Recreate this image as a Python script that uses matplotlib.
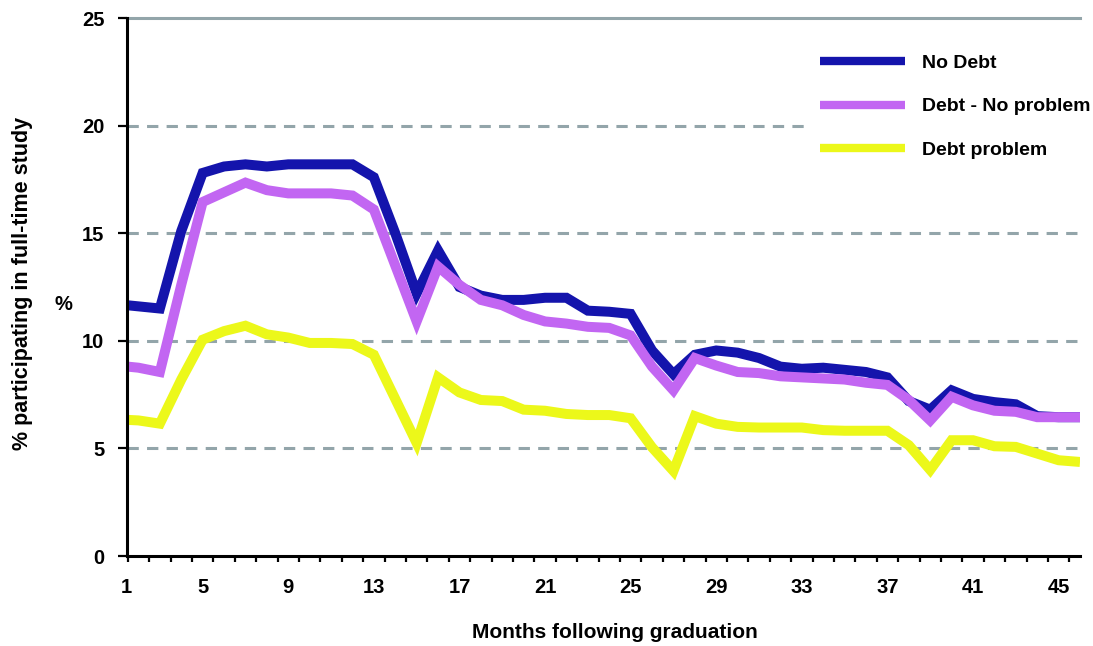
import matplotlib
matplotlib.use("Agg")
import matplotlib.pyplot as plt
import numpy as np

months = list(range(1, 47))
no_debt = [11.7, 11.6, 11.5, 15.1, 17.8, 18.1, 18.2, 18.1, 18.2, 18.2,
           18.2, 18.2, 17.6, 15.0, 12.2, 14.2, 12.5, 12.1, 11.9, 11.9,
           12.0, 12.0, 11.4, 11.35, 11.25, 9.55, 8.45, 9.35, 9.55, 9.45,
           9.2, 8.8, 8.7, 8.75, 8.65, 8.55, 8.3, 7.2, 6.8, 7.7,
           7.3, 7.15, 7.05, 6.5, 6.45, 6.45]
debt_no_problem = [8.85, 8.75, 8.55, 12.6, 16.45, 16.9, 17.35, 17.0, 16.85, 16.85,
                   16.85, 16.75, 16.1, 13.5, 10.9, 13.45, 12.6, 11.9, 11.65, 11.2,
                   10.9, 10.8, 10.65, 10.6, 10.25, 8.8, 7.7, 9.2, 8.85, 8.55,
                   8.5, 8.35, 8.3, 8.25, 8.2, 8.05, 7.95, 7.25, 6.3, 7.4,
                   7.0, 6.75, 6.7, 6.45, 6.45, 6.45]
debt_problem = [6.35, 6.3, 6.15, 8.2, 10.05, 10.45, 10.7, 10.3, 10.15, 9.9,
                9.9, 9.85, 9.35, 7.3, 5.25, 8.3, 7.6, 7.25, 7.2, 6.8,
                6.75, 6.6, 6.55, 6.55, 6.4, 5.05, 3.95, 6.5, 6.15, 6.0,
                5.97, 5.97, 5.97, 5.85, 5.82, 5.82, 5.82, 5.15, 4.0, 5.38,
                5.38, 5.1, 5.07, 4.76, 4.45, 4.37]
series_names = ["No Debt", "Debt - No problem", "Debt problem"]
series_colors = ["#1414AC", "#C266F2", "#ECF81A"]
x_tick_labels = ["1", "5", "9", "13", "17", "21", "25", "29", "33", "37", "41", "45"]
y_ticks = [0, 5, 10, 15, 20, 25]

plt.rcParams['font.family'] = ['Liberation Sans', 'DejaVu Sans']
plt.rcParams['font.weight'] = 'bold'

W, H = 1093, 646
fig = plt.figure(figsize=(W / 100, H / 100), dpi=100)
fig.patch.set_facecolor('white')
ax = fig.add_axes([126.7 / W, 1 - 556 / H, (1080 - 126.7) / W, (556 - 18) / H])

grid_color = "#93A5AA"
for yv in y_ticks[1:-1]:
    ax.axhline(yv, color=grid_color, lw=2.2, linestyle=(0, (3.7, 2.7)), zorder=1)

handles = []
for vals, name, col in zip([no_debt, debt_no_problem, debt_problem], series_names, series_colors):
    ln, = ax.plot(months, vals, color=col, lw=7.2, label=name, zorder=3,
                  solid_joinstyle='miter', solid_capstyle='butt')
    handles.append(ln)

ax.set_xlim(1.45, 46.0)
ax.set_ylim(0, 25)

ax.spines['right'].set_visible(False)
ax.spines['top'].set_color(grid_color)
ax.spines['top'].set_linewidth(2.2)
ax.spines['left'].set_linewidth(2.2)
ax.spines['bottom'].set_linewidth(2.2)
ax.spines['left'].set_zorder(5)
ax.spines['bottom'].set_zorder(5)

label_pos = [1.45] + [int(t) for t in x_tick_labels[1:]]
ax.set_xticks(label_pos)
ax.set_xticklabels(x_tick_labels)
ax.set_xticks(np.arange(1.5, 46, 1.0), minor=True)
ax.tick_params(axis='x', which='major', length=0, pad=15.5, labelsize=14.5)
ax.tick_params(axis='x', which='minor', length=4.5, width=1.6, direction='out', color='black')
ax.set_yticks(y_ticks)
ax.tick_params(axis='y', which='major', length=6.5, width=1.6, direction='out', pad=9.5, labelsize=14.5)

fig.text(23 / W, 1 - 283 / H, "% participating in full-time study", rotation=90,
         ha='center', va='center', fontsize=15.5, fontweight='bold')
fig.text(63 / W, 1 - 305 / H, "%", ha='center', va='center', fontsize=14.5, fontweight='bold')
fig.text(615 / W, 1 - 633 / H, "Months following graduation", ha='center', va='center',
         fontsize=15, fontweight='bold')

leg = ax.legend(handles=handles, loc='upper left', bbox_to_anchor=(804.5 / W, 1 - 39 / H),
                bbox_transform=fig.transFigure, fontsize=14, handlelength=4.38,
                handletextpad=0.88, labelspacing=1.32, borderpad=0.8, borderaxespad=0,
                frameon=True, fancybox=False, framealpha=1)
leg.get_frame().set_facecolor('white')
leg.get_frame().set_edgecolor('none')
for lh in leg.get_lines():
    lh.set_linewidth(6)
leg.set_zorder(10)

fig.savefig("out.png", dpi=100)
